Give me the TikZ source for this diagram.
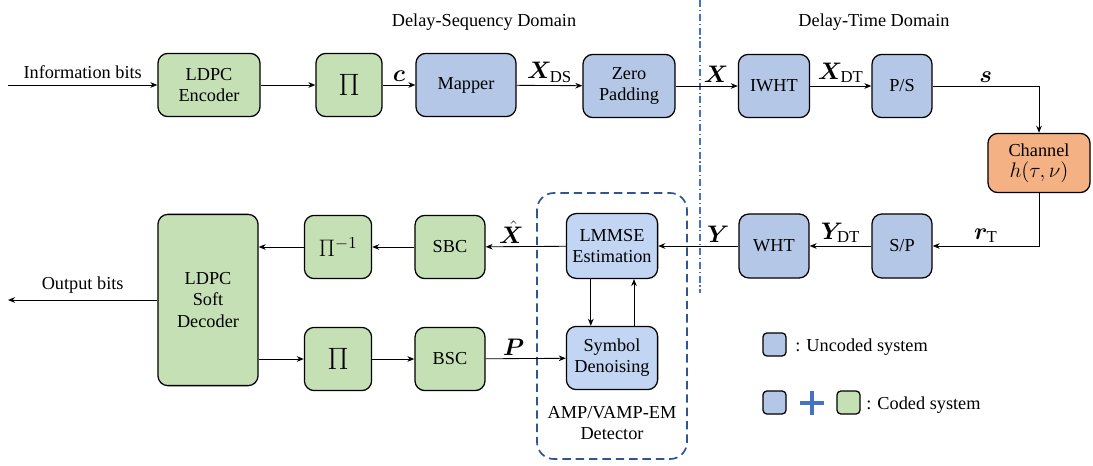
\RequirePackage{fix-cm}
\documentclass[tikz,border=0pt]{standalone}
\usepackage{fontspec}
\setmainfont{Liberation Serif}
\usepackage{amsmath}
\usepackage{bm}
\usetikzlibrary{arrows.meta}

\definecolor{blkgreen}{HTML}{C5E0B4}
\definecolor{blkblue}{HTML}{B4C7E7}
\definecolor{blklight}{HTML}{C2D6F4}
\definecolor{blkorange}{HTML}{F4B183}
\definecolor{detblue}{HTML}{2F5597}
\definecolor{sepblue}{HTML}{4472C4}

\begin{document}
\begin{tikzpicture}[x=0.025cm,y=-0.025cm,
   font=\fontsize{13}{15}\selectfont,
   blk/.style={draw,line width=0.9pt,rounded corners=7pt,align=center,inner sep=1pt,minimum height=1.58cm},
   coded/.style={blk,fill=blkgreen},
   uncoded/.style={blk,fill=blkblue},
   ampblk/.style={blk,fill=blklight,minimum width=2.28cm},
   legbox/.style={draw,line width=0.9pt,rounded corners=3pt,minimum width=0.58cm,minimum height=0.58cm,inner sep=0pt},
   sig/.style={font=\fontsize{17}{19}\selectfont,inner sep=2pt},
   bigpi/.style={font=\fontsize{22}{24}\selectfont},
   arr/.style={-{Stealth[length=5pt,width=4pt]},line width=0.6pt}]
\useasboundingbox (0,0) rectangle (1093,466);

\node (dsd) at (484,22) {Delay-Sequency Domain};
\node (dtd) at (874,22) {Delay-Time Domain};
\draw[sepblue,line width=0.8pt,dash pattern=on 5pt off 2pt on 0.8pt off 2pt] (700,0) -- (700,293);

\coordinate (inb) at (8,85);
\node[coded,minimum width=2.55cm] (enc) at (209,85) {LDPC\\Encoder};
\node[coded,minimum width=1.65cm,bigpi] (pi) at (349,85) {$\Pi$};
\node[uncoded,minimum width=2.5cm] (map) at (466,85) {Mapper};
\node[uncoded,minimum width=2.3cm] (zp) at (629,86) {Zero\\Padding};
\node[uncoded,minimum width=1.78cm] (iwht) at (774,86) {IWHT};
\node[uncoded,minimum width=1.5cm] (ps) at (902,86) {P/S};
\node[blk,fill=blkorange,minimum width=2.55cm,minimum height=1.48cm] (chan) at (1039,163) {Channel\\{\fontsize{15}{17}\selectfont$h(\tau,\nu)$}};

\node[uncoded,minimum width=1.5cm,minimum height=1.6cm] (sp) at (902,246) {S/P};
\node[uncoded,minimum width=1.75cm,minimum height=1.6cm] (wht) at (774,246) {WHT};
\node[ampblk,minimum height=1.62cm] (lmmse) at (612,246) {LMMSE\\Estimation};
\node[ampblk] (sd) at (612,358) {Symbol\\Denoising};
\node[coded,minimum width=1.75cm] (sbc) at (450,247) {SBC};
\node[coded,minimum width=1.68cm,font=\fontsize{17}{19}\selectfont] (pinv) at (338,247) {$\Pi^{-1}$};
\node[coded,minimum width=2.5cm,minimum height=4.28cm] (dec) at (208,300) {LDPC\\Soft\\Decoder};
\node[coded,minimum width=1.68cm,bigpi] (pib) at (338,359) {$\Pi$};
\node[coded,minimum width=1.75cm] (bsc) at (450,359) {BSC};
\coordinate (outb) at (8,300);

\draw[detblue,line width=1.2pt,dash pattern=on 6pt off 3.5pt,rounded corners=12pt] (537,193) rectangle (687,459);
\node[align=center] (detlab) at (612,423) {AMP/VAMP-EM\\Detector};

\draw[arr] (inb) -- node[above=1pt] {Information bits} (enc);
\draw[arr] (enc) -- (pi);
\draw[arr] (pi) -- node[above,sig] {$\bm{c}$} (map);
\draw[arr] (map) -- node[above,sig] {$\bm{X}_{\mathrm{DS}}$} (zp);
\draw[arr] (zp) -- node[above,sig,pos=0.65] {$\bm{X}$} (iwht);
\draw[arr] (iwht) -- node[above,sig] {$\bm{X}_{\mathrm{DT}}$} (ps);
\draw[arr] (ps) -| node[above,sig,pos=0.25] {$\bm{s}$} (chan);
\draw[arr] (chan) |- node[above,sig,pos=0.75] {$\bm{r}_{\mathrm{T}}$} (sp);
\draw[arr] (sp) -- node[above,sig] {$\bm{Y}_{\mathrm{DT}}$} (wht);
\draw[arr] (wht) -- node[above,sig,pos=0.25] {$\bm{Y}$} (lmmse);
\draw[arr] (lmmse) -- node[above,sig,pos=0.68] {$\hat{\bm{X}}$} (sbc);
\draw[arr] (sbc) -- (pinv);
\draw[arr] (pinv.west) -- (pinv.west -| dec.east);
\draw[arr] (dec.east |- pib.west) -- (pib.west);
\draw[arr] (pib) -- (bsc);
\draw[arr] (bsc) -- node[above,sig,pos=0.35] {$\bm{P}$} (sd);
\draw[arr] ([xshift=-0.53cm]lmmse.south) -- ([xshift=-0.53cm]sd.north);
\draw[arr] ([xshift=0.55cm]sd.north) -- ([xshift=0.55cm]lmmse.south);
\draw[arr] (dec.west) -- node[above=1pt] {Output bits} (outb);

\node[legbox,fill=blkblue] (leg1) at (774.5,344.5) {};
\node[anchor=west,inner sep=0pt] (leg1t) at (795,347) {: Uncoded system};
\node[legbox,fill=blkblue] (leg2) at (774.5,402.5) {};
\draw[sepblue,line width=3.5pt] (800,403) -- (824,403) (812,391) -- (812,415);
\node[legbox,fill=blkgreen] (leg3) at (848.5,402.5) {};
\node[anchor=west,inner sep=0pt] (leg3t) at (866,405) {: Coded system};
\end{tikzpicture}
\end{document}
